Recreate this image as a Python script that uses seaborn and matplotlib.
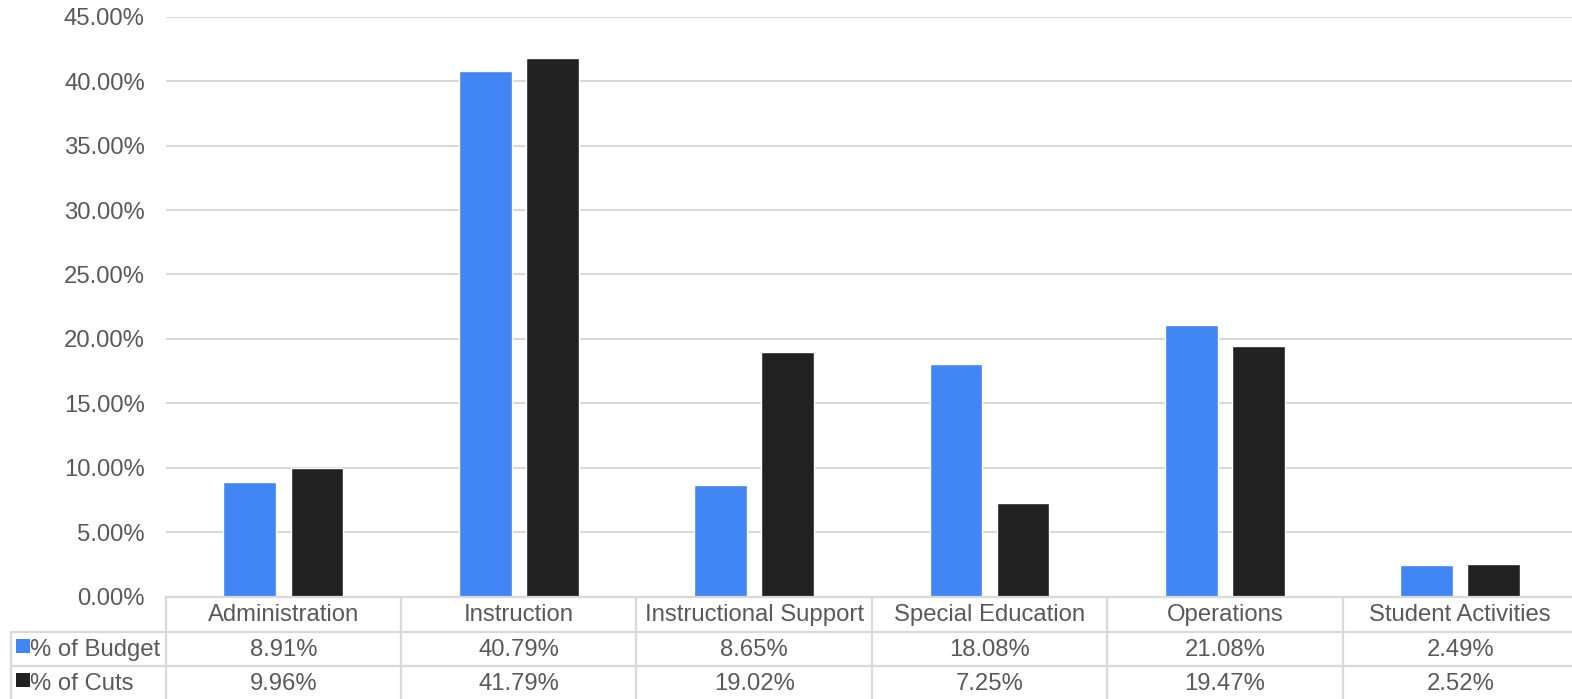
import matplotlib
matplotlib.use("Agg")
import matplotlib.pyplot as plt
import matplotlib.transforms as mtransforms
from matplotlib.lines import Line2D
from matplotlib.patches import Rectangle
import seaborn as sns
import pandas as pd

categories = ["Administration", "Instruction", "Instructional Support",
              "Special Education", "Operations", "Student Activities"]
budget = [8.91, 40.79, 8.65, 18.08, 21.08, 2.49]
cuts = [9.96, 41.79, 19.02, 7.25, 19.47, 2.52]
series_names = ["% of Budget", "% of Cuts"]
colors = ["#4285F4", "#212121"]
yticks = [0, 5, 10, 15, 20, 25, 30, 35, 40, 45]

df = pd.DataFrame({
    "Category": categories * 2,
    "Value": budget + cuts,
    "Series": [series_names[0]] * len(categories) + [series_names[1]] * len(categories),
})

sns.set_style("white")
plt.rcParams["font.family"] = ["Liberation Sans", "DejaVu Sans"]

W, H = 1572, 699
TXT = "#595959"
GRID = "#d9d9d9"
FS = 17.2

fig = plt.figure(figsize=(W / 100, H / 100), dpi=100)
left_px, right_px, top_px, bot_px = 165.7, 1578.0, 16.7, 596.7
ax = fig.add_axes([left_px / W, 1 - bot_px / H, (right_px - left_px) / W, (bot_px - top_px) / H])

sns.barplot(data=df, x="Category", y="Value", hue="Series", order=categories,
            hue_order=series_names, palette=colors, saturation=1, width=0.57,
            gap=0.214, legend=False, ax=ax, zorder=3)

ax.set_xlim(-0.5, len(categories) - 0.5)
ax.set_ylim(0, 45)
ax.set_yticks(yticks)
ax.set_yticklabels([f"{v:.2f}%" for v in yticks], color=TXT, fontsize=FS)
for lab in ax.get_yticklabels():
    lab.set_va("center_baseline")
ax.tick_params(axis="y", length=0, pad=15)
ax.set_xticks([])
ax.set_xlabel("")
ax.set_ylabel("")
ax.yaxis.grid(True, color=GRID, linewidth=1.5, zorder=0)
ax.set_axisbelow(True)
for s in ["top", "right", "left"]:
    ax.spines[s].set_visible(False)
ax.spines["bottom"].set_color(GRID)
ax.spines["bottom"].set_linewidth(1.6)
ax.spines["bottom"].set_zorder(4)

# Data table below the chart
bt = mtransforms.blended_transform_factory(ax.transData, fig.transFigure)

def fy(p):
    return 1 - p / H

row1_px, row2_px, bottom_px = 632.3, 666.3, 700.0
lab_left_px = 11.0

# horizontal lines
for ypx in [row1_px, row2_px]:
    fig.add_artist(Line2D([lab_left_px / W, 1], [fy(ypx), fy(ypx)],
                          transform=fig.transFigure, color=GRID, lw=1.6))
# vertical lines
fig.add_artist(Line2D([lab_left_px / W, lab_left_px / W], [fy(row1_px), fy(bottom_px)],
                      transform=fig.transFigure, color=GRID, lw=1.6))
for k in range(len(categories)):
    fig.add_artist(Line2D([k - 0.5, k - 0.5], [fy(bot_px), fy(bottom_px)],
                          transform=bt, color=GRID, lw=1.6))

# header and values
for i, cat in enumerate(categories):
    fig.text(i, fy(615), cat, transform=bt, ha="center", va="center",
             color=TXT, fontsize=FS)
    fig.text(i, fy(650), f"{budget[i]:.2f}%", transform=bt, ha="center",
             va="center", color=TXT, fontsize=FS)
    fig.text(i, fy(684), f"{cuts[i]:.2f}%", transform=bt, ha="center",
             va="center", color=TXT, fontsize=FS)

# row labels with legend keys
for name, col, ycen in zip(series_names, colors, [650, 684]):
    fig.add_artist(Rectangle((16 / W, fy(ycen + 3)), 14 / W, 14 / H,
                             transform=fig.transFigure, facecolor=col, edgecolor="none"))
    fig.text(30 / W, fy(ycen), name, ha="left", va="center", color=TXT, fontsize=FS)

fig.savefig("out.png", dpi=100)
